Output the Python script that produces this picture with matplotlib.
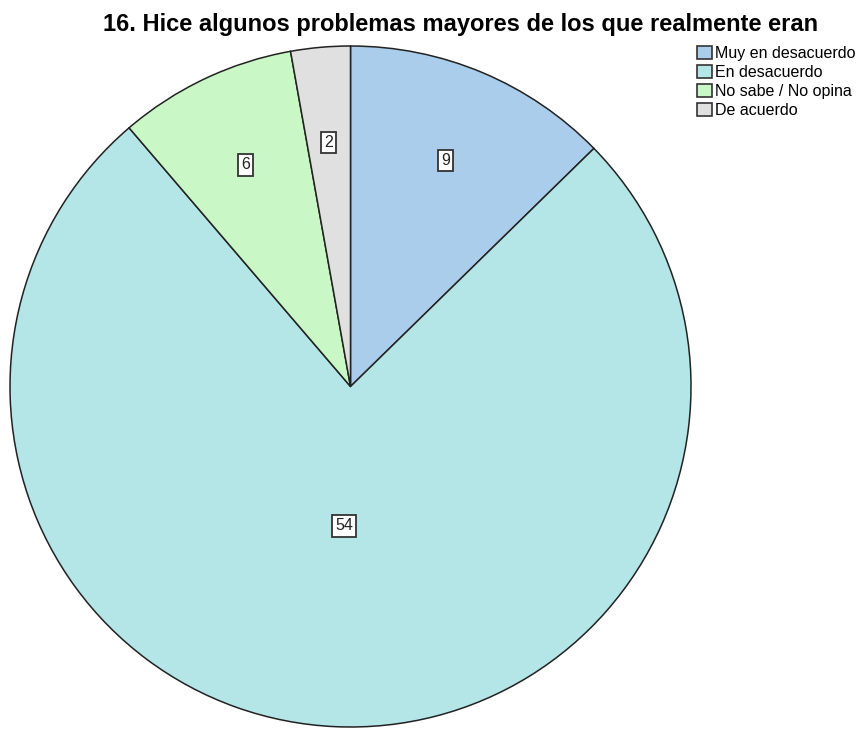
import numpy as np
import matplotlib.pyplot as plt
from matplotlib.patches import Patch

plt.rcParams['font.family'] = ['Liberation Sans', 'DejaVu Sans']

categorias = ['Muy en desacuerdo', 'En desacuerdo', 'No sabe / No opina', 'De acuerdo']
valores = [9, 54, 6, 2]
colores = ['#a9cdeb', '#b4e5e7', '#c9f8c6', '#e0e0e0']
titulo = '16. Hice algunos problemas mayores de los que realmente eran'

fig = plt.figure(figsize=(8.62, 7.31), dpi=100)
ax = fig.add_axes([10 / 862, 4 / 731, 681 / 862, 681 / 731])

wedges, _ = ax.pie(valores, colors=colores, startangle=90, counterclock=False,
                   radius=1, wedgeprops=dict(edgecolor='#222222', linewidth=1.1))
ax.set_xlim(-1, 1)
ax.set_ylim(-1, 1)
ax.set_aspect('equal')
ax.axis('off')

# etiquetas con el valor dentro de cada sector
for w, v in zip(wedges, valores):
    ang = np.deg2rad((w.theta1 + w.theta2) / 2)
    r = 0.41 if v > 30 else 0.72
    ax.text(r * np.cos(ang), r * np.sin(ang), str(v), ha='center', va='center',
            fontsize=11.5, color='#222222',
            bbox=dict(boxstyle='square,pad=0.2', facecolor='white',
                      edgecolor='#333333', linewidth=1.3))

fig.text(461 / 862, 1 - 25 / 731, titulo, ha='center', va='center',
         fontsize=17, fontweight='bold')

handles = [Patch(facecolor=c, edgecolor='#333333', linewidth=1.2) for c in colores]
fig.legend(handles, categorias, loc='upper left', bbox_to_anchor=(697 / 862, 1 - 46 / 731),
           frameon=False, fontsize=11.5, handlelength=0.95, handleheight=0.8,
           handletextpad=0.2, labelspacing=0.25, borderpad=0, borderaxespad=0)

fig.savefig('out.png', dpi=100)
